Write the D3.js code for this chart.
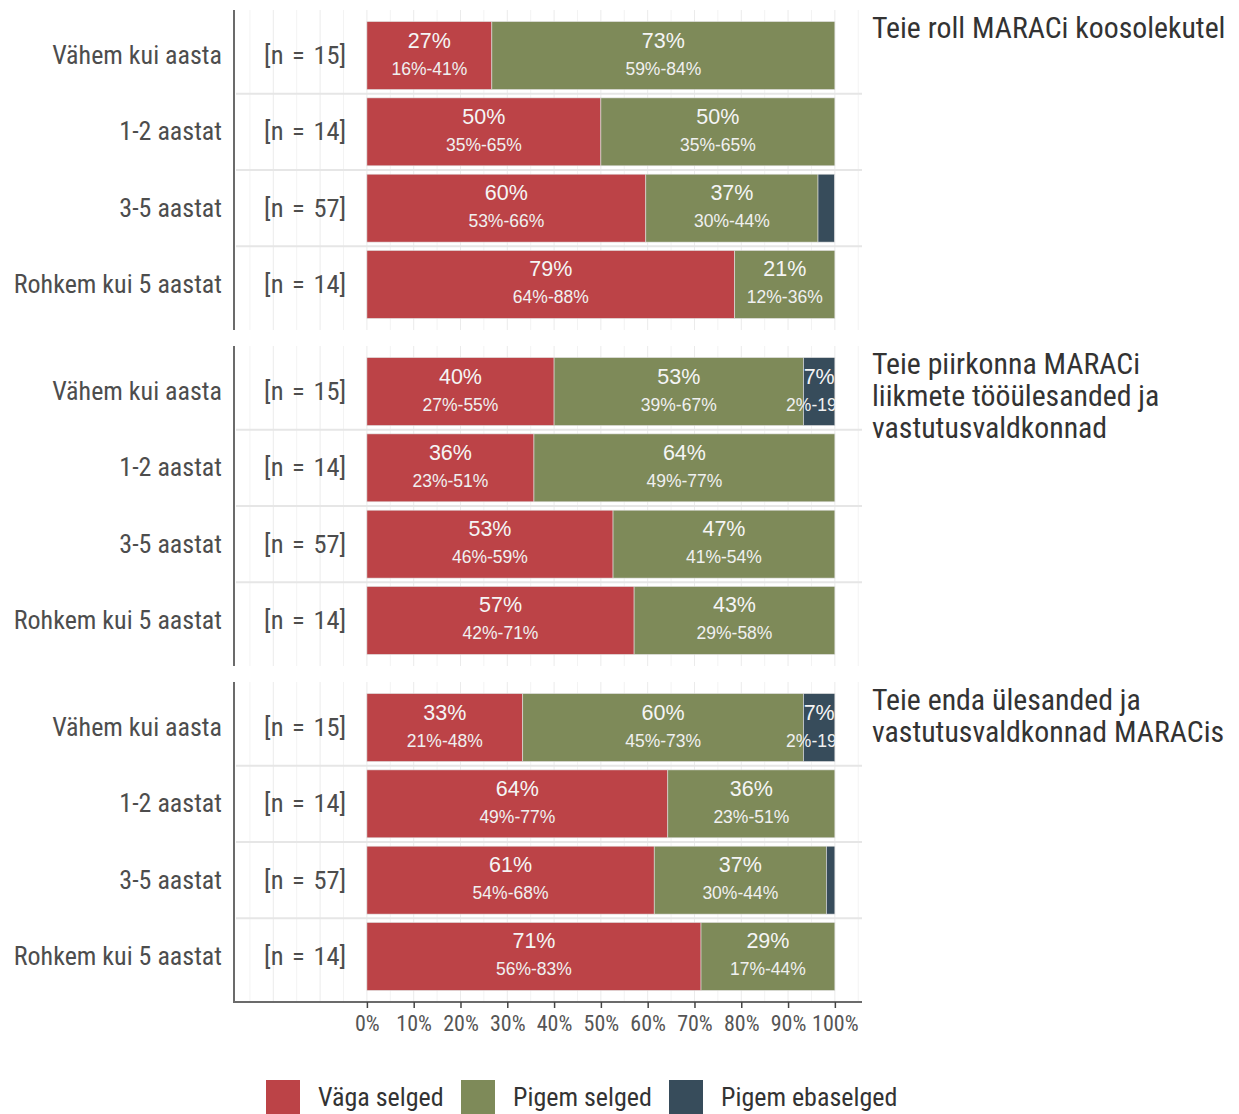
<!DOCTYPE html>
<html><head><meta charset="utf-8">
<script src="https://cdn.jsdelivr.net/npm/d3@7"></script>
<style>
body{margin:0;background:#fff;}
.cond{font-family:"Roboto Condensed","Roboto",sans-serif;font-stretch:75%;}
.arial{font-family:"Liberation Sans",Arial,sans-serif;}
</style></head>
<body><svg id="c" width="1239" height="1114"></svg>
<script>
const facets = ["Teie roll MARACi koosolekutel",
  "Teie piirkonna MARACi liikmete tööülesanded ja vastutusvaldkonnad",
  "Teie enda ülesanded ja vastutusvaldkonnad MARACis"];
const facetLines = [["Teie roll MARACi koosolekutel"],
  ["Teie piirkonna MARACi","liikmete tööülesanded ja","vastutusvaldkonnad"],
  ["Teie enda ülesanded ja","vastutusvaldkonnad MARACis"]];
const categories = ["Vähem kui aasta","1-2 aastat","3-5 aastat","Rohkem kui 5 aastat"];
const nLabels = ["[n = 15]","[n = 14]","[n = 57]","[n = 14]"];
const seriesNames = ["Väga selged","Pigem selged","Pigem ebaselged"];
const colors = ["#BC4347","#7E8A59","#374C5B"];
// values per facet, per category: [Väga, Pigem, Pigem ebaselged] in %
const vaga   = [[26.7,50,59.6,78.6],[40,35.7,52.6,57.1],[33.3,64.3,61.4,71.4]];
const pigem  = [[73.3,50,36.8,21.4],[53.3,64.3,47.4,42.9],[60,35.7,36.8,28.6]];
const ebas   = [[0,0,3.5,0],[6.7,0,0,0],[6.7,0,1.8,0]];
const ciVaga  = [["16%-41%","35%-65%","53%-66%","64%-88%"],["27%-55%","23%-51%","46%-59%","42%-71%"],["21%-48%","49%-77%","54%-68%","56%-83%"]];
const ciPigem = [["59%-84%","35%-65%","30%-44%","12%-36%"],["39%-67%","49%-77%","41%-54%","29%-58%"],["45%-73%","23%-51%","30%-44%","17%-44%"]];
const ciEbas  = [["","","",""],["2%-19%","","",""],["2%-19%","","",""]];
const xTicks = [0,10,20,30,40,50,60,70,80,90,100];

const svg = d3.select("#c");
const x = d3.scaleLinear().domain([-28.4,105.8]).range([234,862]);
const panelTops = [10,346,682];
const panelH = 320;
const defs = svg.append("defs");
defs.append("clipPath").attr("id","clip100").append("rect")
  .attr("x",x(-30)).attr("y",0).attr("width",x(100)-x(-30)).attr("height",1114);

facets.forEach((f,fi)=>{
  const top = panelTops[fi];
  const y = d3.scaleBand().domain(categories).range([top, top+panelH]).paddingInner(0.11).paddingOuter(0.152);
  const g = svg.append("g");
  // gridlines
  d3.range(-25,106,5).forEach(v=>{
    g.append("line").attr("x1",x(v)).attr("x2",x(v)).attr("y1",top).attr("y2",top+panelH)
      .attr("stroke",v%10===0?"#ebebeb":"#f3f3f3").attr("stroke-width",1);
  });
  // separators
  categories.slice(0,3).forEach(c=>{
    const yy = y(c)+y.bandwidth()+ (y.step()-y.bandwidth())/2;
    g.append("line").attr("x1",x(-28.4)+2).attr("x2",x(105.8)).attr("y1",yy).attr("y2",yy)
      .attr("stroke","#e6e6e6").attr("stroke-width",2);
  });
  // bars
  categories.forEach((c,ci)=>{
    const vals=[vaga[fi][ci],pigem[fi][ci],ebas[fi][ci]];
    const cis=[ciVaga[fi][ci],ciPigem[fi][ci],ciEbas[fi][ci]];
    let acc=0;
    const segs = vals.map((v,si)=>{const s={x0:acc,x1:acc+v,v,si,ci:cis[si]};acc+=v;return s;});
    g.selectAll(null).data(segs.filter(s=>s.v>0)).enter().append("rect")
      .attr("x",s=>x(s.x0)).attr("width",s=>x(s.x1)-x(s.x0))
      .attr("y",y(c)).attr("height",y.bandwidth())
      .attr("fill",s=>colors[s.si]).attr("stroke","#e0e0e0").attr("stroke-width",0.6);
    const cy = y(c)+y.bandwidth()/2;
    const lab = g.append("g").attr("clip-path","url(#clip100)");
    segs.filter(s=>s.v>=5).forEach(s=>{
      const cx=(x(s.x0)+x(s.x1))/2;
      lab.append("text").attr("class","arial").attr("x",cx).attr("y",cy-8).attr("text-anchor","middle")
        .attr("font-size",21.5).attr("fill","#f5f5f5").text(Math.round(s.v)+"%");
      lab.append("text").attr("class","arial").attr("x",cx).attr("y",cy+19).attr("text-anchor","middle")
        .attr("font-size",17.5).attr("fill","#f0f0f0").text(s.ci);
    });
    // labels
    svg.append("text").attr("class","cond").attr("x",222).attr("y",cy+8.5).attr("text-anchor","end")
      .attr("font-size",26).attr("fill","#4d4d4d").text(c);
    svg.append("text").attr("class","cond").attr("x",x(-13.2)).attr("y",cy+8.5).attr("text-anchor","middle")
      .attr("font-size",26.5).attr("word-spacing","2.5px").attr("fill","#4d4d4d").text(nLabels[ci]);
  });
  // left axis line
  g.append("line").attr("x1",234).attr("x2",234).attr("y1",top).attr("y2",top+panelH)
    .attr("stroke","#6b6b6b").attr("stroke-width",2);
  // facet title
  const t = svg.append("text").attr("class","cond").attr("x",872).attr("y",top+28)
    .attr("font-size",29.8).attr("fill","#333");
  facetLines[fi].forEach((l,li)=>t.append("tspan").attr("x",872).attr("dy",li===0?0:32).text(l));
});
// bottom axis
const axisY = panelTops[2]+panelH;
const ax = svg.append("g").attr("transform",`translate(0,${axisY})`)
  .call(d3.axisBottom(x).tickValues(xTicks).tickSize(6).tickSizeOuter(0).tickFormat(d=>d+"%"));
ax.select(".domain").attr("stroke","#6b6b6b").attr("stroke-width",2).attr("d",`M233,0H862`);
ax.selectAll(".tick line").attr("stroke","#444").attr("stroke-width",1.5);
ax.selectAll(".tick text").attr("class","cond").attr("font-size",22).attr("fill","#555").attr("dy","0.9em");
// legend
const legX=[266,461,669];
seriesNames.forEach((s,i)=>{
  svg.append("rect").attr("x",legX[i]).attr("y",1080).attr("width",34).attr("height",34).attr("fill",colors[i]);
  svg.append("text").attr("class","cond").attr("x",legX[i]+52).attr("y",1106).attr("font-size",26)
    .attr("fill","#333").text(s);
});
</script></body></html>
